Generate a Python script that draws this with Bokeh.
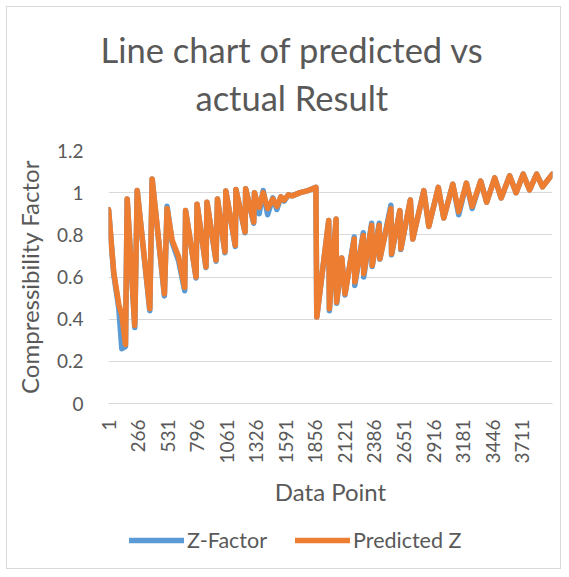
import math
from bokeh.plotting import figure
from bokeh.layouts import column
from bokeh.models import Title, Legend, LegendItem, FixedTicker, NumeralTickFormatter, ColumnDataSource, Range1d
from bokeh.embed import file_html
from bokeh.resources import INLINE

# ---- data (vertices of the two polylines) ----
data_point = [1, 48, 93, 120, 153, 168, 236, 258, 371, 392, 502, 526, 571, 630, 684, 692,
              786, 795, 875, 884, 965, 978, 1045, 1053, 1138, 1144, 1225, 1231, 1303, 1310,
              1334, 1352, 1388, 1428, 1475, 1511, 1547, 1576, 1615, 1648, 1719, 1791, 1861,
              1869, 1976, 1982, 2042, 2047, 2093, 2122, 2205, 2210, 2286, 2290, 2361, 2366,
              2429, 2435, 2534, 2540, 2614, 2623, 2708, 2730, 2829, 2874, 2959, 3008, 3089,
              3142, 3211, 3263, 3339, 3393, 3465, 3523, 3599, 3657, 3720, 3778, 3841, 3894, 3983]

predicted_z = [0.92, 0.62, 0.47, 0.42, 0.28, 0.97, 0.37, 1.01, 0.45, 1.065, 0.52, 0.925, 0.775, 0.695, 0.55, 0.915,
               0.60, 0.945, 0.648, 0.955, 0.68, 0.97, 0.72, 1.008, 0.75, 1.015, 0.814, 1.018, 0.86, 1.0,
               0.95, 0.93, 1.0, 0.925, 0.97, 0.935, 0.98, 0.965, 0.99, 0.985, 1.0, 1.01, 1.025,
               0.41, 0.868, 0.45, 0.875, 0.48, 0.69, 0.52, 0.78, 0.576, 0.797, 0.616, 0.845, 0.655,
               0.845, 0.687, 0.925, 0.71, 0.915, 0.734, 0.965, 0.78, 1.01, 0.84, 1.025, 0.88, 1.04,
               0.91, 1.045, 0.935, 1.055, 0.955, 1.07, 0.975, 1.08, 1.0, 1.088, 1.013, 1.088, 1.028, 1.088]

z_factor = [0.92, 0.61, 0.45, 0.26, 0.27, 0.97, 0.36, 1.01, 0.44, 1.065, 0.51, 0.935, 0.765, 0.675, 0.535, 0.915,
            0.595, 0.945, 0.645, 0.955, 0.675, 0.97, 0.715, 1.008, 0.745, 1.015, 0.81, 1.018, 0.855, 1.0,
            0.95, 0.90, 1.01, 0.895, 0.975, 0.92, 0.98, 0.96, 0.99, 0.985, 1.0, 1.01, 1.025,
            0.41, 0.868, 0.44, 0.875, 0.475, 0.69, 0.515, 0.79, 0.56, 0.81, 0.60, 0.855, 0.65,
            0.855, 0.685, 0.94, 0.705, 0.915, 0.73, 0.965, 0.78, 1.01, 0.84, 1.025, 0.88, 1.04,
            0.895, 1.045, 0.925, 1.055, 0.955, 1.07, 0.975, 1.08, 1.0, 1.088, 1.013, 1.088, 1.028, 1.088]

x_ticks = [1, 266, 531, 796, 1061, 1326, 1591, 1856, 2121, 2386, 2651, 2916, 3181, 3446, 3711]
x_tick_labels = ["1", "266", "531", "796", "1061", "1326", "1591", "1856", "2121", "2386",
                 "2651", "2916", "3181", "3446", "3711"]
y_ticks = [0, 0.2, 0.4, 0.6, 0.8, 1.0, 1.2]

series_names = ["Z-Factor", "Predicted Z"]
series_colors = ["#5B9BD5", "#ED7D31"]
title_lines = ["Line chart of predicted vs", "actual Result"]

FONT = "Lato"
TXT = "#595959"
GRID = "#D9D9D9"
LW = 5.5

# ---------------- main chart ----------------
p = figure(width=553, height=512, output_backend="svg", toolbar_location=None,
           x_range=(0.5, 3983.5), y_range=(0, 1.2),
           min_border_left=101, min_border_right=8, min_border_top=143, min_border_bottom=116)
p.outline_line_color = None
p.background_fill_color = "white"
p.border_fill_color = "white"

src = ColumnDataSource(dict(x=data_point, z=z_factor, pz=predicted_z))
p.line("x", "z", source=src, line_color=series_colors[0], line_width=LW,
       line_cap="round", line_join="round")
p.line("x", "pz", source=src, line_color=series_colors[1], line_width=LW,
       line_cap="round", line_join="round")

p.xgrid.grid_line_color = None
p.ygrid.grid_line_color = GRID
p.ygrid.grid_line_width = 1.2

p.yaxis.ticker = FixedTicker(ticks=y_ticks)
p.yaxis.formatter = NumeralTickFormatter(format="0.[0]")
p.yaxis.axis_line_color = None
p.yaxis.major_tick_line_color = None
p.yaxis.minor_tick_line_color = None
p.yaxis.major_label_standoff = 19
p.yaxis.major_label_text_font = FONT
p.yaxis.major_label_text_font_size = "19px"
p.yaxis.major_label_text_color = TXT
p.yaxis.axis_label = "Compressibility Factor"
p.yaxis.axis_label_text_font = FONT
p.yaxis.axis_label_text_font_size = "24px"
p.yaxis.axis_label_text_font_style = "normal"
p.yaxis.axis_label_text_color = TXT
p.yaxis.axis_label_standoff = 10

p.xaxis.ticker = FixedTicker(ticks=x_ticks)
p.xaxis.major_label_overrides = {t: l for t, l in zip(x_ticks, x_tick_labels)}
p.xaxis.major_label_orientation = math.pi / 2
p.xaxis.axis_line_color = GRID
p.xaxis.major_tick_line_color = None
p.xaxis.minor_tick_line_color = None
p.xaxis.major_label_standoff = 10
p.xaxis.major_label_text_font = FONT
p.xaxis.major_label_text_font_size = "19px"
p.xaxis.major_label_text_color = TXT
p.xaxis.axis_label = "Data Point"
p.xaxis.axis_label_text_font = FONT
p.xaxis.axis_label_text_font_size = "24px"
p.xaxis.axis_label_text_font_style = "normal"
p.xaxis.axis_label_text_color = TXT
p.xaxis.axis_label_standoff = 10

p.add_layout(Title(text=title_lines[1], align="left", offset=87, standoff=66,
                   text_font=FONT, text_font_size="34.5px", text_font_style="normal",
                   text_color=TXT), "above")
p.add_layout(Title(text=title_lines[0], align="left", offset=-8, standoff=-56,
                   text_font=FONT, text_font_size="34.5px", text_font_style="normal",
                   text_color=TXT), "above")

# ---------------- legend strip (frame is aligned with the main chart's frame) ----------------
# the same two series are drawn here, scrolled out of view, only to feed the legend swatches
p2 = figure(width=553, height=49, output_backend="svg", toolbar_location=None,
            x_axis_location=None, y_axis_location=None, min_border=0,
            x_range=Range1d(-2, -1), y_range=Range1d(0, 1.2))
p2.outline_line_color = None
p2.grid.visible = False
p2.background_fill_color = "white"
p2.border_fill_color = "white"
k1 = p2.line("x", "z", source=src, line_color=series_colors[0], line_width=LW, line_cap="round")
k2 = p2.line("x", "pz", source=src, line_color=series_colors[1], line_width=LW, line_cap="round")

legend = Legend(items=[LegendItem(label=series_names[0], renderers=[k1]),
                       LegendItem(label=series_names[1], renderers=[k2])],
                location=(21, 15), orientation="horizontal",
                border_line_color=None, background_fill_alpha=0,
                label_text_font=FONT, label_text_font_size="21.5px", label_text_color=TXT,
                glyph_width=55, glyph_height=22, label_height=22, label_standoff=3,
                spacing=28, padding=0, margin=0)
p2.add_layout(legend)

layout = column(p, p2, spacing=0)
layout.styles = {"border": "1px solid #D9D9D9", "margin": "6px 0 0 6px"}

open("out.html", "w").write(file_html(layout, INLINE))
